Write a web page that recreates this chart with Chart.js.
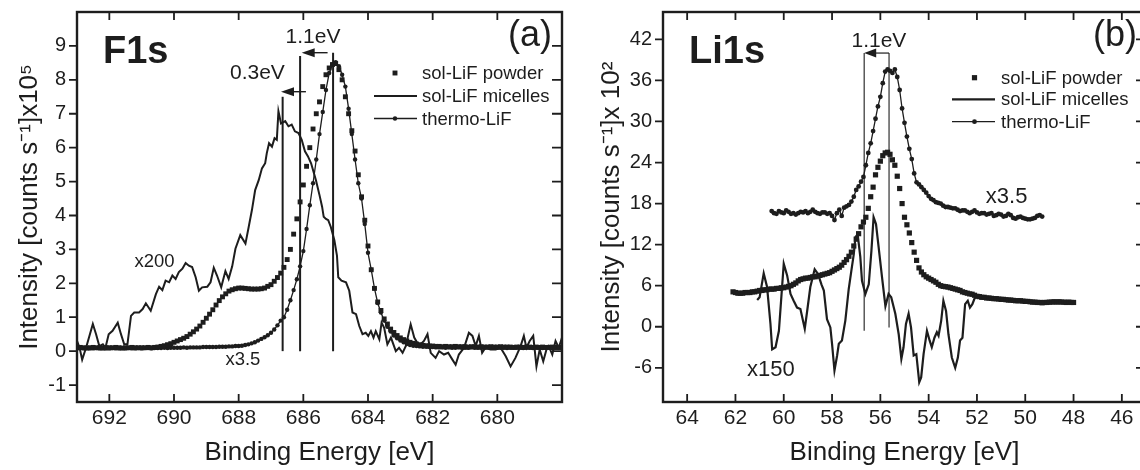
<!DOCTYPE html>
<html><head><meta charset="utf-8">
<script src="https://cdn.jsdelivr.net/npm/chart.js@4.4.1/dist/chart.umd.min.js"></script>
<style>
html,body{margin:0;padding:0;background:#fff;overflow:hidden;width:1140px;height:470px;position:relative;}
.w{position:absolute;top:0;width:580px;height:470px;}
#wa{left:0;} #wb{left:580px;}
canvas{display:block;}
</style></head><body>
<div class="w" id="wa"><canvas id="ca" width="580" height="470"></canvas></div>
<div class="w" id="wb"><canvas id="cb" width="580" height="470"></canvas></div>
<script>
// ---------- F1s panel (a) ----------
const f1sEnergy = [
693.0,692.9,692.8,692.7,692.6,692.5,692.4,692.3,692.2,692.1,
692.0,691.9,691.8,691.7,691.6,691.5,691.4,691.3,691.2,691.1,
691.0,690.9,690.8,690.7,690.6,690.5,690.4,690.3,690.2,690.1,
690.0,689.9,689.8,689.7,689.6,689.5,689.4,689.3,689.2,689.1,
689.0,688.9,688.8,688.7,688.6,688.5,688.4,688.3,688.2,688.1,
688.0,687.9,687.8,687.7,687.6,687.5,687.4,687.3,687.2,687.1,
687.0,686.9,686.8,686.7,686.6,686.5,686.4,686.3,686.2,686.1,
686.0,685.9,685.8,685.7,685.6,685.5,685.4,685.3,685.2,685.1,
685.0,684.9,684.8,684.7,684.6,684.5,684.4,684.3,684.2,684.1,
684.0,683.9,683.8,683.7,683.6,683.5,683.4,683.3,683.2,683.1,
683.0,682.9,682.8,682.7,682.6,682.5,682.4,682.3,682.2,682.1,
682.0,681.9,681.8,681.7,681.6,681.5,681.4,681.3,681.2,681.1,
681.0,680.9,680.8,680.7,680.6,680.5,680.4,680.3,680.2,680.1,
680.0,679.9,679.8,679.7,679.6,679.5,679.4,679.3,679.2,679.1,
679.0,678.9,678.8,678.7,678.6,678.5,678.4,678.3,678.2,678.1,
678.0];
const f1sPowder = [
0.10,0.11,0.10,0.09,0.10,0.11,0.10,0.10,0.09,0.10,
0.10,0.10,0.11,0.10,0.09,0.10,0.10,0.11,0.10,0.10,
0.10,0.10,0.11,0.10,0.11,0.12,0.14,0.16,0.19,0.22,
0.26,0.30,0.34,0.38,0.43,0.50,0.57,0.65,0.74,0.85,
0.97,1.09,1.22,1.36,1.49,1.60,1.69,1.77,1.81,1.84,
1.86,1.86,1.85,1.84,1.83,1.83,1.83,1.84,1.86,1.91,
1.96,2.06,2.17,2.30,2.47,2.70,3.00,3.45,3.90,4.40,
4.90,5.45,6.00,6.55,7.00,7.35,7.80,8.15,8.35,8.45,
8.48,8.30,8.00,7.50,7.00,6.50,5.90,5.20,4.55,3.86,
3.10,2.40,1.85,1.45,1.20,0.95,0.80,0.65,0.55,0.46,
0.39,0.34,0.30,0.26,0.23,0.21,0.19,0.17,0.16,0.15,
0.15,0.14,0.14,0.13,0.14,0.13,0.13,0.14,0.13,0.13,
0.13,0.12,0.13,0.13,0.12,0.13,0.12,0.12,0.13,0.12,
0.12,0.13,0.12,0.12,0.12,0.11,0.12,0.12,0.11,0.12,
0.12,0.11,0.12,0.11,0.12,0.11,0.11,0.12,0.11,0.11,
0.11];
const f1sThermo = [
0.08,0.09,0.08,0.09,0.08,0.08,0.09,0.08,0.09,0.08,
0.08,0.09,0.08,0.08,0.09,0.08,0.09,0.08,0.08,0.09,
0.08,0.09,0.09,0.08,0.09,0.09,0.09,0.10,0.09,0.10,
0.10,0.10,0.10,0.11,0.10,0.11,0.11,0.11,0.11,0.12,
0.12,0.12,0.12,0.12,0.13,0.13,0.13,0.14,0.14,0.15,
0.15,0.16,0.18,0.20,0.23,0.26,0.31,0.36,0.41,0.47,
0.54,0.64,0.76,0.90,1.00,1.22,1.50,1.80,2.12,2.50,
2.95,3.60,4.30,4.95,5.65,6.40,7.05,7.70,8.20,8.45,
8.52,8.40,8.15,7.80,7.15,6.40,5.65,4.95,4.50,3.75,
2.90,2.40,1.85,1.42,1.14,0.90,0.72,0.58,0.46,0.38,
0.31,0.26,0.21,0.18,0.16,0.15,0.14,0.13,0.13,0.12,
0.12,0.11,0.11,0.11,0.10,0.11,0.10,0.10,0.11,0.10,
0.10,0.10,0.11,0.10,0.10,0.10,0.10,0.11,0.10,0.10,
0.10,0.10,0.10,0.09,0.10,0.10,0.10,0.10,0.09,0.10,
0.10,0.09,0.10,0.10,0.09,0.10,0.10,0.09,0.10,0.10,
0.10];
const f1sMicellesEnergy = [
693.0,692.92,692.84,692.72,692.51,692.41,692.31,692.2,692.12,692.02,
691.9,691.74,691.64,691.54,691.44,691.33,691.23,691.08,690.97,690.87,
690.72,690.56,690.46,690.36,690.26,690.15,690.05,689.95,689.85,689.74,
689.64,689.54,689.44,689.33,689.23,689.13,688.97,688.87,688.77,688.67,
688.54,688.41,688.31,688.2,688.1,687.95,687.79,687.69,687.59,687.49,
687.38,687.28,687.18,687.13,687.06,686.97,686.89,686.82,686.77,686.69,
686.56,686.46,686.36,686.26,686.15,686.05,685.95,685.86,685.76,685.61,
685.5,685.42,685.37,685.3,685.23,685.15,685.04,684.96,684.92,684.82,
684.68,684.58,684.48,684.37,684.27,684.17,684.07,683.99,683.91,683.83,
683.76,683.65,683.58,683.5,683.4,683.29,683.14,683.04,682.93,682.83,
682.68,682.57,682.42,682.27,682.16,682.06,681.91,681.8,681.65,681.52,
681.39,681.29,681.19,681.03,680.88,680.77,680.67,680.57,680.47,680.37,
680.21,680.05,679.9,679.74,679.59,679.44,679.28,679.18,679.1,679.0,
678.89,678.79,678.69,678.58,678.48,678.41,678.3,678.2,678.1,678.0];
const f1sMicelles = [
0.3,0.1,-0.25,0.1,0.8,0.5,0.15,0.2,0.1,0.5,
0.6,0.84,0.5,0.2,0.2,1.04,1.14,1.14,1.24,1.41,
1.19,1.68,1.9,1.8,2.08,2.03,2.23,2.13,2.33,2.43,
2.6,2.52,2.48,2.18,1.78,1.88,1.9,2.03,2.46,2.23,
1.88,2.36,2.13,2.5,3.02,3.42,3.17,3.66,4.16,4.75,
5.04,5.39,5.54,5.84,6.13,6.03,6.28,6.23,7.07,6.71,
6.78,6.63,6.68,6.48,6.43,6.23,5.89,5.75,5.54,5.04,
4.6,4.26,3.96,3.9,3.86,3.66,3.27,2.82,2.18,2.08,
2.03,1.78,1.14,1.09,0.74,0.5,0.54,0.45,0.59,0.4,
0.59,0.35,0.84,0.69,0.2,0.4,0.0,0.1,-0.05,0.15,
0.79,0.4,0.15,0.3,0.5,-0.05,-0.2,0.0,-0.1,-0.05,
-0.25,-0.4,-0.1,0.1,0.54,0.45,0.15,0.45,-0.05,0.1,
0.05,0.05,0.1,-0.15,-0.45,-0.2,0.15,0.45,0.1,0.3,
0.45,-0.45,0.05,-0.3,0.05,0.15,-0.1,0.3,0.1,0.4];
const f1sTicksX = [692,690,688,686,684,682,680];
const f1sTicksY = [-1,0,1,2,3,4,5,6,7,8,9];
// annotation lines [energy, from, to], arrows [intensity, tail, tip], notes [text, energy, intensity, px]
const f1sShiftLines = [[686.64,0,7.5],[686.1,0,8.7],[685.08,0,8.8]];
const f1sShiftArrows = [[8.8,685.25,686.05],[7.65,685.92,686.69]];
const f1sNotes = [['1.1eV',685.7,9.25,21],['0.3eV',687.42,8.2,21],['x200',690.6,2.63,18.5],['x3.5',687.87,-0.27,18.5]];

// ---------- Li1s panel (b) ----------
const li1sPowderEnergy = [
62.1,62.0,61.9,61.8,61.7,61.6,61.5,61.4,61.3,61.2,
61.1,61.0,60.9,60.8,60.7,60.6,60.5,60.4,60.3,60.2,
60.1,60.0,59.9,59.8,59.7,59.6,59.5,59.4,59.3,59.2,
59.1,59.0,58.9,58.8,58.7,58.6,58.5,58.4,58.3,58.2,
58.1,58.0,57.9,57.8,57.7,57.6,57.5,57.4,57.3,57.2,
57.1,57.0,56.9,56.8,56.7,56.6,56.5,56.4,56.3,56.2,
56.1,56.0,55.9,55.8,55.7,55.6,55.5,55.4,55.3,55.2,
55.1,55.0,54.9,54.8,54.7,54.6,54.5,54.4,54.3,54.2,
54.1,54.0,53.9,53.8,53.7,53.6,53.5,53.4,53.3,53.2,
53.1,53.0,52.9,52.8,52.7,52.6,52.5,52.4,52.3,52.2,
52.1,52.0,51.9,51.8,51.7,51.6,51.5,51.4,51.3,51.2,
51.1,51.0,50.9,50.8,50.7,50.6,50.5,50.4,50.3,50.2,
50.1,50.0,49.9,49.8,49.7,49.6,49.5,49.4,49.3,49.2,
49.1,49.0,48.9,48.8,48.7,48.6,48.5,48.4,48.3,48.2,
48.1,48.0];
const li1sPowder = [
5.1,5.0,4.9,4.9,4.9,5.0,5.0,5.0,5.1,5.1,
5.2,5.3,5.3,5.4,5.4,5.5,5.5,5.5,5.6,5.6,
5.7,5.7,5.8,5.9,6.0,6.2,6.4,6.7,6.9,7.0,
7.1,7.1,7.2,7.3,7.3,7.4,7.5,7.6,7.7,7.8,
7.9,8.1,8.3,8.5,8.7,9.0,9.4,9.8,10.3,10.9,
11.8,12.8,13.6,14.6,15.3,16.0,17.3,19.0,20.4,22.2,
23.3,24.2,25.0,25.4,25.5,25.2,24.4,23.6,22.0,20.2,
18.0,16.0,14.9,13.7,12.3,10.9,9.7,8.6,8.0,7.6,
7.3,7.1,6.9,6.7,6.5,6.2,6.0,5.9,5.85,5.8,
5.7,5.6,5.5,5.4,5.3,5.1,5.0,4.9,4.8,4.75,
4.6,4.45,4.4,4.3,4.3,4.2,4.2,4.15,4.1,4.1,
4.05,4.0,4.0,3.95,3.9,3.9,3.85,3.8,3.8,3.8,
3.75,3.7,3.7,3.65,3.6,3.6,3.55,3.55,3.5,3.55,
3.55,3.6,3.6,3.65,3.6,3.65,3.6,3.6,3.55,3.6,
3.55,3.55];
const li1sThermoEnergy = [
60.5,60.4,60.3,60.2,60.1,60.0,59.9,59.8,59.7,59.6,
59.5,59.4,59.3,59.2,59.1,59.0,58.9,58.8,58.7,58.6,
58.5,58.4,58.3,58.2,58.1,58.0,57.9,57.8,57.7,57.6,
57.5,57.4,57.3,57.2,57.1,57.0,56.9,56.8,56.7,56.6,
56.5,56.4,56.3,56.2,56.1,56.0,55.9,55.8,55.7,55.6,
55.5,55.4,55.3,55.2,55.1,55.0,54.9,54.8,54.7,54.6,
54.5,54.4,54.3,54.2,54.1,54.0,53.9,53.8,53.7,53.6,
53.5,53.4,53.3,53.2,53.1,53.0,52.9,52.8,52.7,52.6,
52.5,52.4,52.3,52.2,52.1,52.0,51.9,51.8,51.7,51.6,
51.5,51.4,51.3,51.2,51.1,51.0,50.9,50.8,50.7,50.6,
50.5,50.4,50.3,50.2,50.1,50.0,49.9,49.8,49.7,49.6,
49.5,49.4,49.3];
const li1sThermo = [
16.9,16.6,16.5,16.9,16.7,16.6,17.0,16.8,16.5,16.6,
16.4,16.6,16.8,16.7,16.9,16.6,16.8,17.1,16.8,16.6,
16.5,16.7,16.7,16.5,16.6,16.2,15.6,16.6,17.1,16.2,
17.4,17.6,17.8,18.3,19.0,20.0,20.5,21.2,21.9,23.6,
25.4,26.8,28.6,30.4,32.2,33.6,35.6,37.3,37.6,37.4,
37.1,37.6,36.5,34.6,31.9,29.8,27.8,26.0,24.5,22.4,
21.1,20.8,20.4,20.0,19.6,19.1,18.7,18.5,18.2,18.1,
18.0,17.7,17.5,17.5,17.4,17.3,17.3,17.1,16.9,17.0,
17.0,16.8,16.6,16.8,17.0,16.7,16.5,16.6,16.6,16.4,
16.5,16.6,16.2,16.3,16.5,16.4,16.1,16.2,16.5,16.3,
15.9,15.8,16.0,16.1,15.9,15.8,15.7,15.7,15.8,15.9,
16.2,16.3,16.1];
const li1sMicellesEnergy = [
61.1,61.0,60.83,60.69,60.55,60.48,60.34,60.2,60.0,59.86,
59.72,59.59,59.45,59.31,59.13,59.03,58.9,58.72,58.58,58.44,
58.34,58.21,58.07,58.0,57.9,57.79,57.72,57.59,57.45,57.31,
57.2,57.1,57.03,56.94,56.83,56.76,56.62,56.48,56.37,56.28,
56.18,56.07,55.93,55.79,55.66,55.55,55.38,55.24,55.13,55.04,
54.94,54.83,54.73,54.62,54.51,54.39,54.31,54.21,54.07,53.96,
53.87,53.76,53.66,53.59,53.48,53.39,53.28,53.18,53.04,52.9,
52.79,52.7,52.6,52.49,52.38,52.29,52.19,52.08,52.0];
const li1sMicelles = [
3.9,4.3,7.8,5.8,0.4,-3.3,-3.0,-0.6,9.2,7.5,
4.8,3.8,2.8,2.6,-0.3,2.3,5.8,8.4,7.7,6.2,
5.3,1.1,-0.1,-2.5,-6.4,-4.2,-2.5,-2.0,0.9,5.5,
8.2,10.6,13.1,13.5,10.2,6.7,4.8,6.2,11.1,16.0,
15.0,11.6,7.2,3.0,4.8,4.3,1.9,-1.1,-4.7,-3.0,
0.4,1.9,-0.1,-4.2,-4.0,-8.1,-7.4,-4.0,-0.6,-2.0,
-3.0,-1.6,-0.8,-1.3,0.9,3.8,2.3,-1.1,-4.5,-6.0,
-4.5,-2.0,-1.6,3.3,3.8,2.8,3.3,4.3,4.5];
const li1sTicksX = [64,62,60,58,56,54,52,50,48,46];
const li1sTicksY = [-6,0,6,12,18,24,30,36,42];
const li1sShiftLines = [[56.67,-0.6,40],[55.64,-0.1,40]];
const li1sShiftArrows = [[40,55.64,56.67]];
const li1sNotes = [['1.1eV',56.06,41.8,21],['x3.5',50.77,19.0,22],['x150',60.53,-6.35,22]];

const seriesNames = ['sol-LiF powder','sol-LiF micelles','thermo-LiF'];

// ---------- rendering ----------
const INK = '#1d1d1d';
const FONT = "'Liberation Sans', Arial, Helvetica, sans-serif";
Chart.defaults.font.family = FONT;
Chart.defaults.color = INK;

function pts(xs, ys) { return xs.map((v, i) => ({x: v, y: ys[i]})); }

function decor(cfg) {
  return {
    id: 'decor',
    afterDatasetsDraw(chart) {
      const ctx = chart.ctx, a = chart.chartArea;
      const sx = chart.scales.x, sy = chart.scales.y;
      const X = v => sx.getPixelForValue(v), Y = v => sy.getPixelForValue(v);
      ctx.save();
      ctx.strokeStyle = INK; ctx.fillStyle = INK; ctx.lineCap = 'butt';
      ctx.lineWidth = cfg.markWidth;
      cfg.lines.forEach(([e, y0, y1]) => {
        ctx.beginPath(); ctx.moveTo(X(e), Y(y0)); ctx.lineTo(X(e), Y(y1)); ctx.stroke();
      });
      cfg.arrows.forEach(([v, tail, tip]) => {
        const y = Y(v), xt = X(tail), xh = X(tip);
        const d = Math.sign(xt - xh);
        ctx.lineWidth = cfg.arrowWidth;
        ctx.beginPath(); ctx.moveTo(xt, y); ctx.lineTo(xh + d * cfg.headLen * 0.6, y); ctx.stroke();
        ctx.beginPath(); ctx.moveTo(xh, y);
        ctx.lineTo(xh + d * cfg.headLen, y - cfg.headHalf);
        ctx.lineTo(xh + d * cfg.headLen, y + cfg.headHalf);
        ctx.closePath(); ctx.fill();
      });
      ctx.textAlign = 'center'; ctx.textBaseline = 'middle';
      cfg.notes.forEach(([t, e, v, s]) => { ctx.font = s + 'px ' + FONT; ctx.fillText(t, X(e), Y(v)); });
      ctx.lineWidth = 1.8;
      ctx.beginPath();
      cfg.xTicks.forEach(v => {
        const p = X(v);
        ctx.moveTo(p, a.bottom); ctx.lineTo(p, a.bottom - 8);
        ctx.moveTo(p, a.top); ctx.lineTo(p, a.top + 8);
      });
      cfg.yTicks.forEach(v => {
        const p = Y(v);
        ctx.moveTo(a.left - 8, p); ctx.lineTo(a.left, p);
        ctx.moveTo(a.right, p); ctx.lineTo(a.right - 10, p);
      });
      ctx.stroke();
      ctx.lineWidth = 2.4;
      ctx.strokeRect(a.left, a.top, a.right - a.left, a.bottom - a.top);
      ctx.textAlign = 'left'; ctx.textBaseline = 'alphabetic';
      ctx.font = 'bold 38px ' + FONT;
      ctx.fillText(cfg.element, a.left + 26, a.top + 51);
      ctx.textAlign = 'center'; ctx.textBaseline = 'middle';
      ctx.font = '36px ' + FONT;
      ctx.fillText(cfg.panel, a.right - cfg.panelDx, a.top + 24);
      const L = cfg.legend;
      ctx.font = '18.5px ' + FONT;
      ctx.textAlign = 'left'; ctx.textBaseline = 'middle';
      seriesNames.forEach((name, i) => {
        const yy = a.top + L.rows[i], mx = a.left + L.mx;
        if (i === 0) {
          const s = cfg.rectSide;
          ctx.fillRect(mx - s / 2, yy - s / 2, s, s);
        } else {
          ctx.lineWidth = i === 1 ? cfg.micWidth : cfg.thermoWidth;
          ctx.beginPath(); ctx.moveTo(a.left + L.lx0, yy); ctx.lineTo(a.left + L.lx1, yy); ctx.stroke();
          if (i === 2) { ctx.beginPath(); ctx.arc(mx, yy, cfg.dotR, 0, Math.PI * 2); ctx.fill(); }
        }
        ctx.fillText(name, a.left + L.tx, yy + 1);
      });
      ctx.restore();
    }
  };
}

function build(id, cfg) {
  return new Chart(document.getElementById(id), {
    type: 'scatter',
    data: {datasets: [
      {label: seriesNames[1], data: cfg.mic, showLine: true, borderColor: INK, borderWidth: cfg.micWidth,
       pointRadius: 0, tension: 0},
      {label: seriesNames[0], data: cfg.powder, showLine: false, pointStyle: 'rect',
       pointRadius: cfg.rectSide / Math.SQRT2, pointBackgroundColor: INK, pointBorderWidth: 0},
      {label: seriesNames[2], data: cfg.thermo, showLine: true, borderColor: INK, borderWidth: cfg.thermoWidth,
       pointStyle: 'circle', pointRadius: cfg.dotR, pointBackgroundColor: INK, pointBorderWidth: 0, tension: 0}
    ]},
    options: {
      responsive: false, animation: false, events: [],
      layout: {padding: {left: 0, top: 0, right: cfg.padRight, bottom: 0}},
      plugins: {legend: {display: false}, tooltip: {enabled: false}},
      scales: {
        x: {type: 'linear', min: cfg.xMin, max: cfg.xMax, reverse: true,
            afterFit: s => { s.height = 68; },
            afterBuildTicks: s => { s.ticks = cfg.xTicks.map(v => ({value: v})); },
            grid: {display: false, drawTicks: true, tickLength: 4}, border: {display: false},
            ticks: {padding: 0, font: {size: 21}, color: INK},
            title: {display: true, text: 'Binding Energy [eV]', font: {size: 26}, color: INK, padding: {top: 0, bottom: 2}}},
        y: {type: 'linear', min: cfg.yMin, max: cfg.yMax,
            afterFit: s => { s.width = cfg.yAxisWidth; },
            afterBuildTicks: s => { s.ticks = cfg.yTicks.map(v => ({value: v})); },
            grid: {display: false, drawTicks: true, tickLength: 11}, border: {display: false},
            ticks: {padding: 0, font: {size: 20}, color: INK},
            title: {display: true, text: cfg.yTitle, font: {size: 26}, color: INK, padding: {top: cfg.yTitlePad, bottom: 0}}}
      }
    },
    plugins: [decor(cfg)]
  });
}

build('ca', {
  mic: pts(f1sMicellesEnergy, f1sMicelles), powder: pts(f1sEnergy, f1sPowder), thermo: pts(f1sEnergy, f1sThermo),
  xMin: 678, xMax: 693, yMin: -1.5, yMax: 10, xTicks: f1sTicksX, yTicks: f1sTicksY,
  padRight: 18, yAxisWidth: 77, yTitlePad: 14,
  yTitle: 'Intensity [counts s\u207B\u00B9]x10\u2075',
  lines: f1sShiftLines, arrows: f1sShiftArrows, notes: f1sNotes,
  markWidth: 2, arrowWidth: 1.4, headLen: 13, headHalf: 4.5,
  micWidth: 2, thermoWidth: 1.3, dotR: 2.2, rectSide: 4.9,
  element: 'F1s', panel: '(a)', panelDx: 32,
  legend: {mx: 318, lx0: 297, lx1: 340, tx: 345, rows: [61, 84, 106.5]}
});
build('cb', {
  mic: pts(li1sMicellesEnergy, li1sMicelles), powder: pts(li1sPowderEnergy, li1sPowder), thermo: pts(li1sThermoEnergy, li1sThermo),
  xMin: 45, xMax: 65, yMin: -11, yMax: 46, xTicks: li1sTicksX, yTicks: li1sTicksY,
  padRight: 14, yAxisWidth: 83, yTitlePad: 16.5,
  yTitle: 'Intensity [counts s\u207B\u00B9]x 10\u00B2',
  lines: li1sShiftLines, arrows: li1sShiftArrows, notes: li1sNotes,
  markWidth: 1.1, arrowWidth: 1.2, headLen: 12, headHalf: 4.5,
  micWidth: 2.2, thermoWidth: 1.3, dotR: 2.4, rectSide: 5.2,
  element: 'Li1s', panel: '(b)', panelDx: 31,
  legend: {mx: 311.5, lx0: 289, lx1: 332, tx: 338, rows: [65.7, 87.3, 109.7]}
});
</script>
</body></html>
